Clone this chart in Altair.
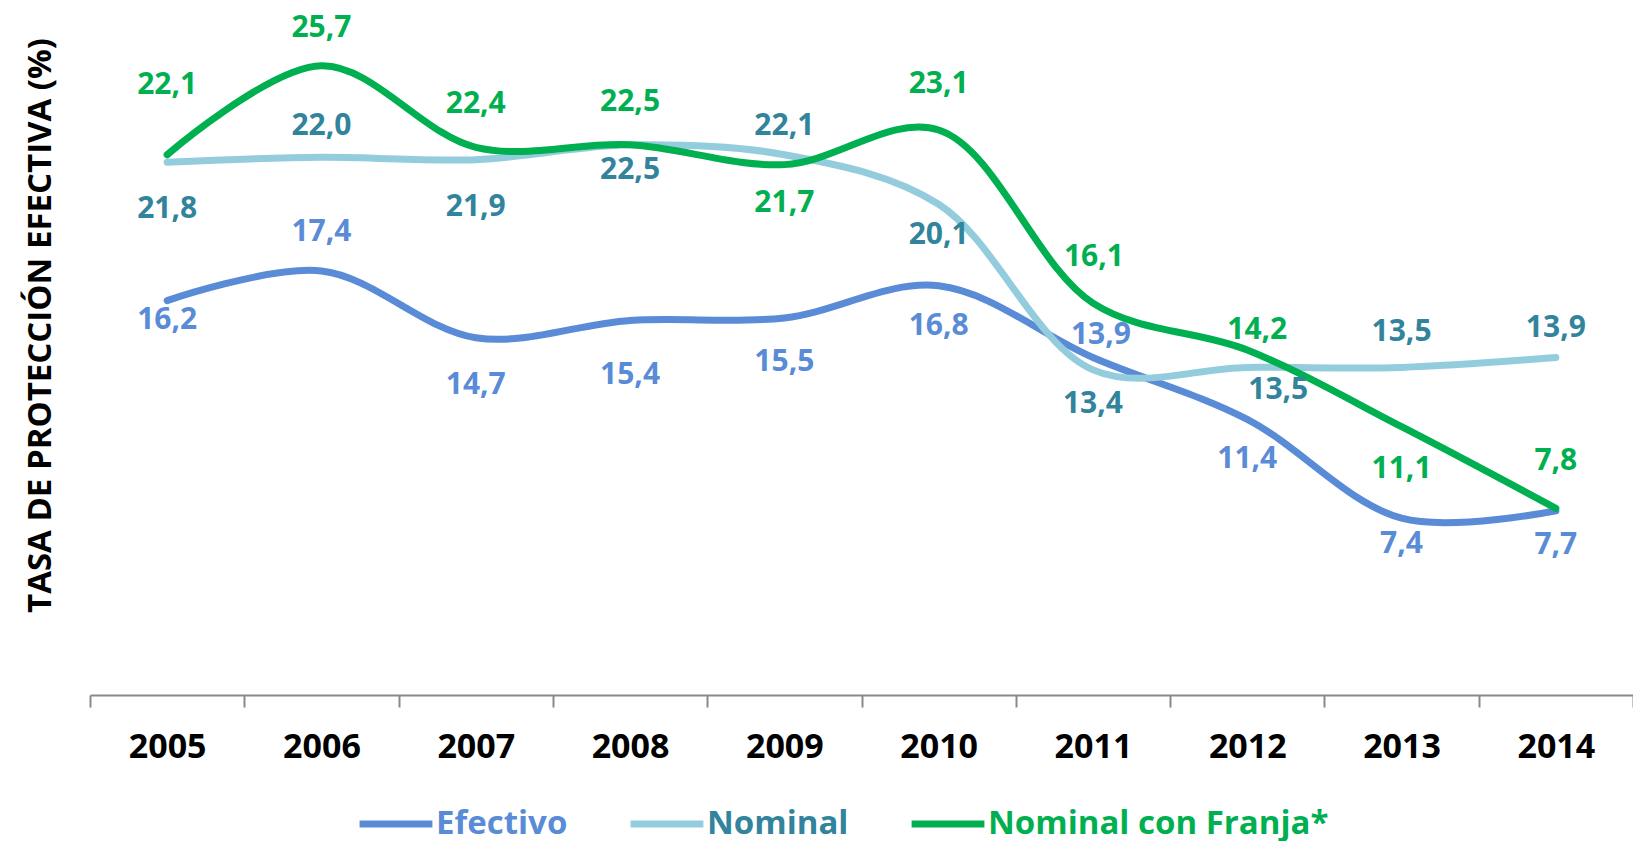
import altair as alt
import pandas as pd

years = ["2005", "2006", "2007", "2008", "2009", "2010", "2011", "2012", "2013", "2014"]
series_names = ["Efectivo", "Nominal", "Nominal con Franja*"]
efectivo = [16.2, 17.4, 14.7, 15.4, 15.5, 16.8, 13.9, 11.4, 7.4, 7.7]
nominal = [21.8, 22.0, 21.9, 22.5, 22.1, 20.1, 13.4, 13.5, 13.5, 13.9]
franja = [22.1, 25.7, 22.4, 22.5, 21.7, 23.1, 16.1, 14.2, 11.1, 7.8]

line_colors = ["#5A8BD6", "#93CDDD", "#00B050"]
label_colors = ["#5A8BD6", "#31849B", "#00B050"]

# label placement (pixels; negative = above the point)
lab_dy_efectivo = [19, -39, 47, 55, 44, 40, -22, 40, 26, 34]
lab_dy_nominal = [47, -31, 47, 25, -29, 31, 34, 23, -35, -29]
lab_dy_franja = [-70, -38, -43, -43, 38, -46, -46, -20, 42, -47]
lab_dx_efectivo = [0, 0, 0, 0, 0, 0, 8, 0, 0, 0]
lab_dx_nominal = [0, 0, 0, 0, 0, 0, 0, 31, 0, 0]
lab_dx_franja = [0, 0, 0, 0, 0, 0, 1, 10, 0, 0]

WIDTH = 1543
HEIGHT = 677
YMIN, YMAX = 0.25, 27.63
PPU = HEIGHT / (YMAX - YMIN)

rows = []
for name, vals, dys, dxs, lc in [
    ("Efectivo", efectivo, lab_dy_efectivo, lab_dx_efectivo, label_colors[0]),
    ("Nominal", nominal, lab_dy_nominal, lab_dx_nominal, label_colors[1]),
    ("Nominal con Franja*", franja, lab_dy_franja, lab_dx_franja, label_colors[2]),
]:
    for y, v, dy, dx in zip(years, vals, dys, dxs):
        rows.append({
            "year": y, "serie": name, "value": v,
            "label": f"{v:.1f}".replace(".", ","),
            "label_y": v - dy / PPU, "dx": dx, "lcolor": lc,
        })
df = pd.DataFrame(rows)

x_enc = alt.X("year:N", sort=years, scale=alt.Scale(paddingInner=0, paddingOuter=0),
              axis=alt.Axis(title=None, tickBand="extent", domainColor="#898989", domainWidth=2,
                            tickColor="#898989", tickWidth=2, tickSize=12,
                            labelFont="Open Sans", labelFontSize=34, labelFontWeight="bold",
                            labelColor="black", labelAngle=0, labelPadding=40, labelBaseline="middle"))
y_scale = alt.Scale(domain=[YMIN, YMAX], nice=False, zero=False)

lines = alt.Chart(df).mark_line(interpolate="catmull-rom", strokeWidth=7, strokeCap="round").encode(
    x=x_enc,
    y=alt.Y("value:Q", scale=y_scale,
            axis=alt.Axis(title="TASA DE PROTECCIÓN EFECTIVA (%)", labels=False, ticks=False,
                          domain=False, grid=False, titleFont="Open Sans", titleFontSize=33,
                          titleFontWeight="bold", titleColor="black", titleX=-50, titleY=307,
                          titleAngle=270, titleAlign="center", titleBaseline="middle")),
    color=alt.Color("serie:N", sort=series_names,
                    scale=alt.Scale(domain=series_names, range=line_colors),
                    legend=alt.Legend(title=None, orient="none", legendX=266, legendY=766,
                                      direction="horizontal", symbolType="stroke",
                                      symbolSize=5300, symbolStrokeWidth=7,
                                      labelFont="Open Sans", labelFontSize=33,
                                      labelFontWeight="bold", labelLimit=0, labelOffset=0,
                                      columnPadding=48,
                                      labelColor=alt.ExprRef(
                                          "datum.label == 'Efectivo' ? '#5A8BD6' : "
                                          "datum.label == 'Nominal' ? '#31849B' : '#00B050'"))),
    order=alt.Order("order_idx:Q"),
    detail="serie:N",
).transform_calculate(
    order_idx="datum.serie == 'Efectivo' ? 0 : datum.serie == 'Nominal' ? 1 : 2"
)

text_layers = []
for dxv in sorted(df["dx"].unique()):
    text_layers.append(
        alt.Chart(df).transform_filter(alt.datum.dx == int(dxv)).mark_text(
            font="Open Sans", fontSize=30, fontWeight="bold", baseline="middle", align="center",
            dx=int(dxv)
        ).encode(
            x=alt.X("year:N", sort=years),
            y=alt.Y("label_y:Q", scale=y_scale),
            text="label:N",
            color=alt.Color("lcolor:N", scale=None),
        )
    )

chart = alt.layer(lines, *text_layers).properties(
    width=WIDTH, height=HEIGHT,
    autosize=alt.AutoSizeParams(type="none"),
    padding={"left": 82, "top": 10, "right": 0, "bottom": 146},
    background="white",
).configure_view(stroke=None)

chart.save("out.html", embed_options={"renderer": "svg", "actions": False})
